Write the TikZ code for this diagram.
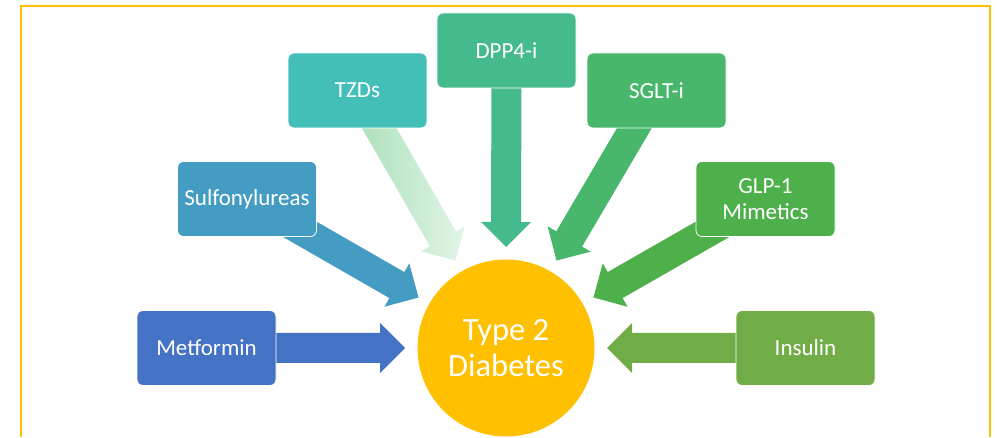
\documentclass[tikz,border=0pt]{standalone}
\usepackage{fontspec}
\setmainfont{Carlito}
\usetikzlibrary{calc}
\definecolor{cMet}{HTML}{4472C4}
\definecolor{cSul}{HTML}{449CC3}
\definecolor{cTzd}{HTML}{44BFB8}
\definecolor{cDpp}{HTML}{45BA8D}
\definecolor{cSgl}{HTML}{48B66B}
\definecolor{cGlp}{HTML}{4DB04B}
\definecolor{cIns}{HTML}{70AD47}
\definecolor{cGold}{HTML}{FFC000}
\definecolor{cGradA}{HTML}{A6DEB4}
\definecolor{cGradB}{HTML}{E2F5E8}
\newcommand{\blockarrow}[3]{%
  \coordinate (h-#1) at ($(#2)!25pt!(#1)$);
  \path[#3] ($(#1)!15pt!90:(#2)$) -- ($(h-#1)!15pt!90:(#2)$) -- ($(h-#1)!25pt!90:(#2)$)
    -- (#2) -- ($(h-#1)!25pt!-90:(#2)$) -- ($(h-#1)!15pt!-90:(#2)$) -- ($(#1)!15pt!-90:(#2)$) -- cycle;
}
\begin{document}
\begin{tikzpicture}[x=1pt,y=1pt,
  drug/.style={rectangle, rounded corners=6pt, draw=white, line width=0.8pt,
    minimum width=139pt, minimum height=75pt, text=white, align=center,
    font=\fontsize{23}{25.5}\selectfont},
  goal/.style={circle, fill=cGold, minimum size=177pt, inner sep=0pt, text=white,
    align=center, font=\fontsize{32.5}{35.5}\selectfont},
  frame/.style={draw=cGold, line width=1.6pt}]
\useasboundingbox (0,0) rectangle (997,437);
\draw[frame] (21,0) -- (21,431) -- (990,431) -- (990,0);
% centre and arrow tips
\coordinate (c) at (506,89);
\coordinate (tMet) at ($(c)+(180:101)$);
\coordinate (tSul) at ($(c)+(150:101)$);
\coordinate (tTzd) at ($(c)+(120:101)$);
\coordinate (tDpp) at ($(c)+(90:101)$);
\coordinate (tSgl) at ($(c)+(60:101)$);
\coordinate (tGlp) at ($(c)+(30:101)$);
\coordinate (tIns) at ($(c)+(0:101)$);
% box centres
\coordinate (met) at (206.5,89);
\coordinate (sul) at (247,238);
\coordinate (tzd) at (357.5,346.5);
\coordinate (dpp) at (506.5,386.5);
\coordinate (sgl) at (656.5,346.5);
\coordinate (glp) at (765.5,238);
\coordinate (ins) at (805.5,89);
% arrows
\blockarrow{met}{tMet}{fill=cMet}
\blockarrow{sul}{tSul}{fill=cSul}
\blockarrow{tzd}{tTzd}{left color=cGradA, right color=cGradB}
\blockarrow{dpp}{tDpp}{fill=cDpp}
\blockarrow{sgl}{tSgl}{fill=cSgl}
\blockarrow{glp}{tGlp}{fill=cGlp}
\blockarrow{ins}{tIns}{fill=cIns}
% boxes
\node[drug, fill=cMet] (Met) at (met) {Metformin};
\node[drug, fill=cSul] (Sul) at (sul) {Sulfonylureas};
\node[drug, fill=cTzd] (Tzd) at (tzd) {TZDs};
\node[drug, fill=cDpp] (Dpp) at (dpp) {DPP4-i};
\node[drug, fill=cSgl] (Sgl) at (sgl) {SGLT-i};
\node[drug, fill=cGlp] (Glp) at (glp) {GLP-1\\Mimetics};
\node[drug, fill=cIns] (Ins) at (ins) {Insulin};
\node[goal] (T2D) at (c) {Type 2\\Diabetes};
\end{tikzpicture}
\end{document}
